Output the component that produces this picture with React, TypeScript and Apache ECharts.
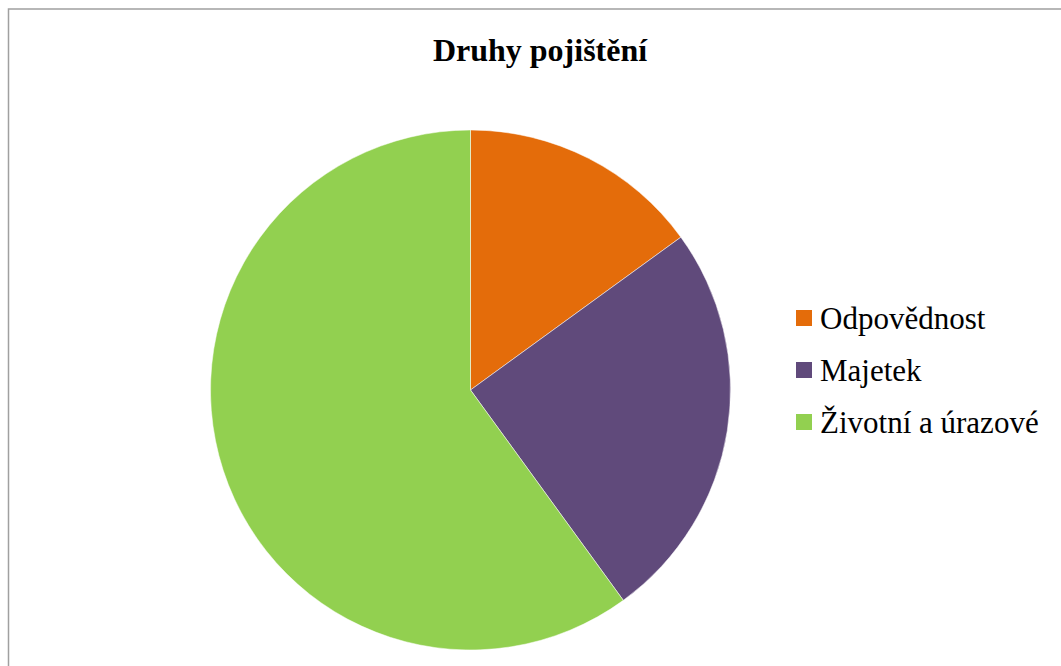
import React, { useEffect, useRef } from "react";
import * as echarts from "echarts";

const titleText = "Druhy pojištění";
const categories = ["Odpovědnost", "Majetek", "Životní a úrazové"];
const values = [15, 25, 60];
const colors = ["#E46C0A", "#604A7B", "#92D050"];

const SERIF = "'Liberation Serif', 'Times New Roman', serif";

export default function App() {
  const ref = useRef<HTMLDivElement>(null);
  useEffect(() => {
    if (!ref.current) return;
    const chart = echarts.init(ref.current, undefined, { renderer: "svg" });
    const legendX = 796;
    const legendY0 = 318;
    const legendStep = 52;
    const legendItems: any[] = [];
    categories.forEach((name, i) => {
      const cy = legendY0 + i * legendStep;
      legendItems.push({
        type: "rect",
        shape: { x: legendX, y: cy - 8, width: 16, height: 16 },
        style: { fill: colors[i] },
        silent: true,
      });
      legendItems.push({
        type: "text",
        x: legendX + 24,
        y: cy,
        style: {
          text: name,
          fontFamily: SERIF,
          fontSize: 31,
          fontWeight: "normal",
          fontStyle: "normal",
          fill: "#000",
          textAlign: "left",
          textVerticalAlign: "middle",
        },
        silent: true,
      });
    });
    chart.setOption({
      animation: false,
      backgroundColor: "#ffffff",
      color: colors,
      graphic: [
        {
          type: "rect",
          shape: { x: 8.5, y: 9, width: 1200, height: 800 },
          style: { fill: "none", stroke: "#a0a0a0", lineWidth: 1.5 },
          silent: true,
        },
        {
          type: "text",
          x: 540,
          y: 50,
          style: {
            text: titleText,
            fontFamily: SERIF,
            fontSize: 32,
            fontWeight: "bold",
            fill: "#000",
            textAlign: "center",
            textVerticalAlign: "middle",
          },
        },
        ...legendItems,
      ],
      series: [
        {
          type: "pie",
          center: [470.5, 390],
          radius: 260,
          startAngle: 90,
          clockwise: true,
          label: { show: false },
          labelLine: { show: false },
          emphasis: { disabled: true },
          itemStyle: { borderColor: "#ffffff", borderWidth: 0.5 },
          data: categories.map((name, i) => ({ name, value: values[i] })),
        },
      ],
    });
    return () => chart.dispose();
  }, []);
  return (
    <div
      ref={ref}
      style={{ position: "absolute", left: 0, top: 0, width: 1061, height: 666 }}
    />
  );
}
